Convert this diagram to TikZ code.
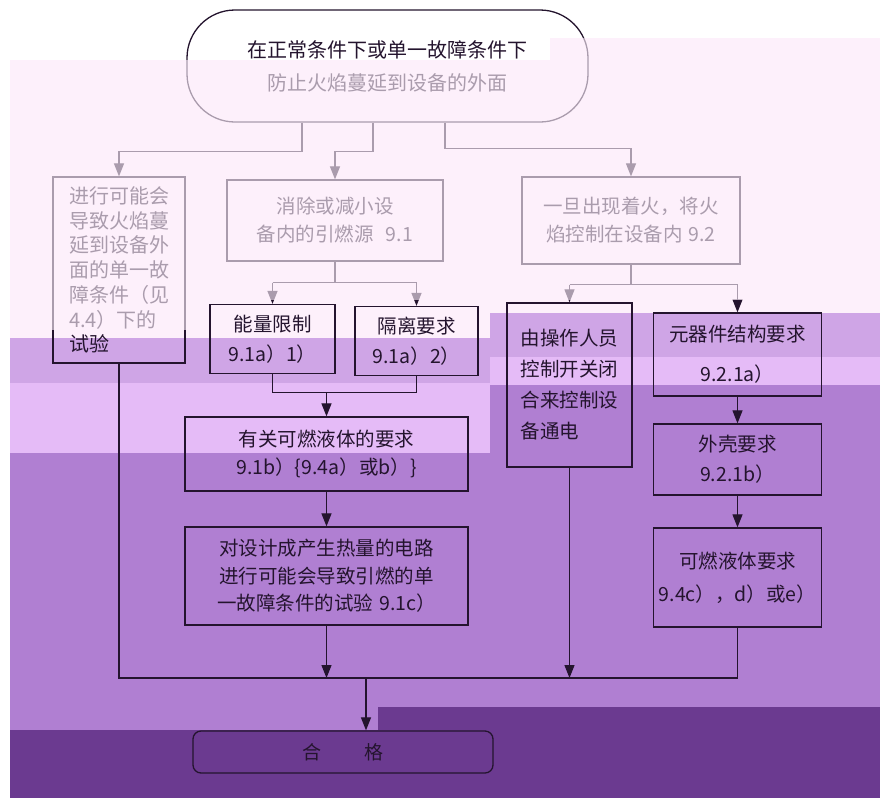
\documentclass[tikz,border=0pt]{standalone}
\usepackage{fontspec}
\setmainfont{Noto Sans CJK SC}
\usetikzlibrary{arrows.meta}
\definecolor{ink}{HTML}{24142E}
\definecolor{pinkbg}{HTML}{FDF0FB}
\definecolor{bandA}{HTML}{CFA5E6}
\definecolor{bandB}{HTML}{E5BBF7}
\definecolor{bandC}{HTML}{B07FD2}
\definecolor{bandD}{HTML}{6B3A90}
\begin{document}
\begin{tikzpicture}[x=1pt,y=-1pt,
  box/.style={draw=ink, line width=1.3pt, text=ink, inner sep=0pt, font=\fontsize{19.5}{28}\selectfont},
  arr/.style={draw=ink, line width=1.2pt, -{Triangle[length=13pt,width=10pt]}},
  ln/.style={draw=ink, line width=1.2pt},
  fade/.style={fill=pinkbg, fill opacity=0.62, draw=none}]
\useasboundingbox (0,0) rectangle (880,798);
% background bands
\fill[white] (0,0) rectangle (880,798);
\fill[pinkbg] (10,60) rectangle (490,338);
\fill[pinkbg] (490,60) rectangle (880,313);
\fill[pinkbg] (550,38) rectangle (880,60);
\fill[bandA] (10,338) rectangle (490,383);
\fill[bandB] (10,383) rectangle (490,453);
\fill[bandC] (10,453) rectangle (490,730);
\fill[bandA] (490,313) rectangle (880,357);
\fill[bandB] (490,357) rectangle (880,385);
\fill[bandC] (490,385) rectangle (880,707);
\fill[bandD] (10,730) rectangle (378,798);
\fill[bandD] (378,707) rectangle (880,798);

% nodes
\node[draw=ink, line width=1.3pt, rounded corners=48pt, minimum width=401pt, minimum height=112pt,
      text=ink, inner sep=0pt, align=center, font=\fontsize{20}{33}\selectfont] (T) at (387.5,66)
  {在正常条件下或单一故障条件下\\防止火焰蔓延到设备的外面};
\node[box, minimum width=132pt, minimum height=186pt, align=left, font=\fontsize{20}{24.7}\selectfont] (L) at (119,270)
  {进行可能会\\导致火焰蔓\\延到设备外\\面的单一故\\障条件（见\\4.4）下的\\试验};
\node[box, minimum width=216pt, minimum height=81pt, align=center] (M) at (335,220.5)
  {消除或减小设\\备内的引燃源\hspace{12pt}9.1};
\node[box, minimum width=218pt, minimum height=87pt, align=center] (R) at (631,220.5)
  {一旦出现着火，将火\\焰控制在设备内\hspace{6pt}9.2};
\node[box, minimum width=125pt, minimum height=69pt, align=center, font=\fontsize{19.5}{30}\selectfont] (E) at (272.5,339)
  {能量限制\\9.1a）1）};
\node[box, minimum width=123pt, minimum height=69pt, align=center, font=\fontsize{19.5}{30}\selectfont] (I) at (416.5,341)
  {隔离要求\\9.1a）2）};
\node[box, minimum width=283pt, minimum height=74pt, align=center] (F) at (326.5,454)
  {有关可燃液体的要求\\9.1b）\{9.4a）或b）\}};
\node[box, minimum width=283pt, minimum height=98pt, align=center, font=\fontsize{19.5}{27.5}\selectfont] (H) at (326.5,576)
  {对设计成产生热量的电路\\进行可能会导致引燃的单\\一故障条件的试验\hspace{6pt}9.1c）};
\node[box, minimum width=125pt, minimum height=164pt, align=left, font=\fontsize{19.5}{31}\selectfont] (O) at (569.5,385)
  {由操作人员\\控制开关闭\\合来控制设\\备通电};
\node[box, minimum width=168pt, minimum height=83pt, align=center, font=\fontsize{19.5}{40}\selectfont] (C) at (737.5,354.5)
  {元器件结构要求\\9.2.1a）};
\node[box, minimum width=168pt, minimum height=71pt, align=center, font=\fontsize{19.5}{30}\selectfont] (S) at (737.5,459.5)
  {外壳要求\\9.2.1b）};
\node[box, minimum width=168pt, minimum height=99pt, align=center, font=\fontsize{19.5}{33}\selectfont] (P) at (737.5,577.5)
  {可燃液体要求\\9.4c），d）或e）};
\node[box, rounded corners=8pt, minimum width=300pt, minimum height=42pt, font=\fontsize{19}{22}\selectfont] (Q) at (343,752)
  {合\hspace{44pt}格};

% connector points
\coordinate (t1) at ([xshift=-85.5pt]T.south);
\coordinate (t2) at ([xshift=-14.5pt]T.south);
\coordinate (t3) at ([xshift=57.5pt]T.south);
\coordinate (bl) at (L.south |- 0,678);
\coordinate (br) at (P.south |- 0,678);
\coordinate (qin) at ([xshift=23pt]Q.north);

% top branches
\draw[arr] (t1) -- ++(0,29) -| (L.north);
\draw[arr] (t2) -- ++(0,29) -| (M.north);
\draw[arr] (t3) -- ++(0,26) -| (R.north);

% middle column
\draw[ln] (M.south) -- ++(0,21) coordinate (m1);
\draw[ln] (E.north |- m1) -- (I.north |- m1);
\draw[arr] (E.north |- m1) -- (E.north);
\draw[arr] (I.north |- m1) -- (I.north);
\draw[ln] (E.south) -- ++(0,18.5) coordinate (e1) -| (I.south);
\draw[arr] (F.north |- e1) -- (F.north);
\draw[arr] (F.south) -- (H.north);

% right column
\draw[ln] (R.south) -- ++(0,20) coordinate (r1);
\draw[ln] (O.north |- r1) -- (C.north |- r1);
\draw[arr] (O.north |- r1) -- (O.north);
\draw[arr] (C.north |- r1) -- (C.north);
\draw[arr] (C.south) -- (S.north);
\draw[arr] (S.south) -- (P.north);

% bottom collector
\draw[ln] (L.south) -- (bl) -- (br) -- (P.south);
\draw[arr] (H.south) -- (H.south |- bl);
\draw[arr] (O.south) -- (O.south |- bl);
\draw[arr] (qin |- bl) -- (qin);

% faded upper area
\fill[fade] (10,60) rectangle (880,300);
\fill[fade] (550,38) rectangle (880,60);
\fill[fade] (10,300) rectangle (200,330);
\end{tikzpicture}
\end{document}
